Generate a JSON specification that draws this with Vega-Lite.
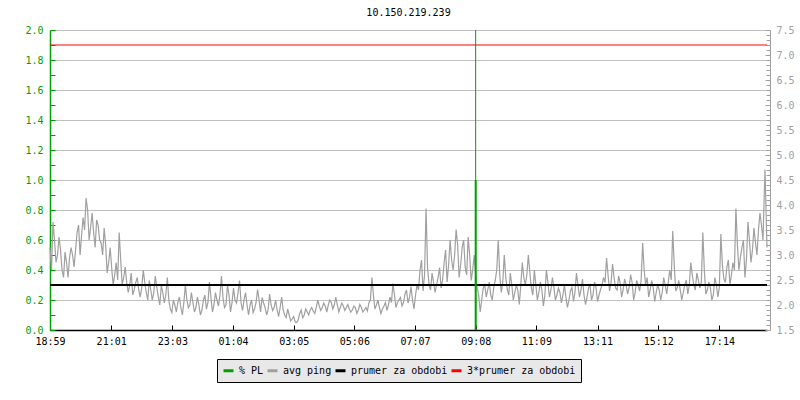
{
  "$schema": "https://vega.github.io/schema/vega-lite/v6.json",
  "width": 717,
  "height": 300,
  "autosize": "none",
  "padding": {"left": 50, "top": 30, "right": 33, "bottom": 70},
  "background": "white",
  "title": {"text": "10.150.219.239", "font": "DejaVu Sans Mono", "fontSize": 10, "fontWeight": "normal", "color": "black", "anchor": "middle", "offset": 7},
  "config": {
    "view": {"stroke": null},
    "font": "DejaVu Sans Mono",
    "axis": {"labelFont": "DejaVu Sans Mono", "labelFontSize": 10, "labelOverlap": false, "title": null, "labelBound": false, "labelFlush": false},
    "legend": {
      "orient": "none",
      "legendX": 167,
      "legendY": 329,
      "direction": "horizontal",
      "symbolType": "stroke",
      "symbolStrokeWidth": 3,
      "symbolSize": 100,
      "labelFont": "DejaVu Sans Mono",
      "labelFontSize": 10,
      "labelColor": "black",
      "labelOffset": 4,
      "columnPadding": -3,
      "padding": 5,
      "fillColor": "#e8e8e8",
      "strokeColor": "black"
    }
  },
  "datasets": {
    "ping": [
      {"m":0,"ping":3.15},{"m":6,"ping":3.66},{"m":12,"ping":2.85},{"m":18,"ping":3.36},{"m":24,"ping":2.7},{"m":30,"ping":3.06},{"m":36,"ping":2.55},{"m":42,"ping":3.15},{"m":48,"ping":2.76},{"m":54,"ping":3.45},
      {"m":60,"ping":3.0},{"m":66,"ping":3.75},{"m":72,"ping":4.14},{"m":78,"ping":3.3},{"m":84,"ping":3.84},{"m":90,"ping":3.15},{"m":96,"ping":3.6},{"m":102,"ping":3.24},{"m":108,"ping":3.54},{"m":114,"ping":2.64},
      {"m":120,"ping":3.15},{"m":126,"ping":2.4},{"m":132,"ping":2.85},{"m":138,"ping":3.45},{"m":144,"ping":2.4},{"m":150,"ping":2.76},{"m":156,"ping":2.25},{"m":162,"ping":2.64},{"m":168,"ping":2.31},{"m":174,"ping":2.55},
      {"m":180,"ping":2.16},{"m":186,"ping":2.7},{"m":192,"ping":2.25},{"m":198,"ping":2.49},{"m":204,"ping":2.1},{"m":210,"ping":2.58},{"m":216,"ping":2.16},{"m":222,"ping":2.4},{"m":228,"ping":2.04},{"m":234,"ping":2.55},
      {"m":240,"ping":1.92},{"m":246,"ping":2.1},{"m":252,"ping":1.86},{"m":258,"ping":2.16},{"m":264,"ping":1.8},{"m":270,"ping":2.4},{"m":276,"ping":1.95},{"m":282,"ping":2.25},{"m":288,"ping":1.86},{"m":294,"ping":2.16},
      {"m":300,"ping":1.8},{"m":306,"ping":2.1},{"m":312,"ping":1.92},{"m":318,"ping":2.46},{"m":324,"ping":1.86},{"m":330,"ping":2.25},{"m":336,"ping":1.98},{"m":342,"ping":2.58},{"m":348,"ping":1.95},{"m":354,"ping":2.4},
      {"m":360,"ping":1.86},{"m":366,"ping":2.34},{"m":372,"ping":2.04},{"m":378,"ping":2.49},{"m":384,"ping":1.89},{"m":390,"ping":2.25},{"m":396,"ping":1.8},{"m":402,"ping":2.1},{"m":408,"ping":1.92},{"m":414,"ping":2.31},
      {"m":420,"ping":1.86},{"m":426,"ping":2.04},{"m":432,"ping":1.8},{"m":438,"ping":2.22},{"m":444,"ping":1.89},{"m":450,"ping":2.1},{"m":456,"ping":1.77},{"m":462,"ping":2.16},{"m":468,"ping":1.8},{"m":474,"ping":1.92},
      {"m":480,"ping":1.68},{"m":486,"ping":1.77},{"m":492,"ping":1.65},{"m":498,"ping":1.83},{"m":504,"ping":1.74},{"m":510,"ping":1.92},{"m":516,"ping":1.8},{"m":522,"ping":1.95},{"m":528,"ping":1.83},{"m":534,"ping":2.1},
      {"m":540,"ping":1.89},{"m":546,"ping":2.04},{"m":552,"ping":1.86},{"m":558,"ping":2.1},{"m":564,"ping":1.92},{"m":570,"ping":2.16},{"m":576,"ping":1.86},{"m":582,"ping":2.04},{"m":588,"ping":1.89},{"m":594,"ping":2.01},
      {"m":600,"ping":1.86},{"m":606,"ping":1.98},{"m":612,"ping":1.83},{"m":618,"ping":2.01},{"m":624,"ping":1.86},{"m":630,"ping":1.95},{"m":636,"ping":2.04},{"m":642,"ping":2.55},{"m":648,"ping":1.92},{"m":654,"ping":2.1},
      {"m":660,"ping":1.83},{"m":666,"ping":1.98},{"m":672,"ping":1.89},{"m":678,"ping":2.16},{"m":684,"ping":2.43},{"m":690,"ping":1.95},{"m":696,"ping":2.1},{"m":702,"ping":1.98},{"m":708,"ping":2.22},{"m":714,"ping":2.04},
      {"m":720,"ping":2.37},{"m":726,"ping":1.92},{"m":732,"ping":2.4},{"m":738,"ping":2.7},{"m":744,"ping":2.28},{"m":750,"ping":3.93},{"m":756,"ping":2.4},{"m":762,"ping":2.64},{"m":768,"ping":2.25},{"m":774,"ping":2.55},
      {"m":780,"ping":2.34},{"m":786,"ping":2.85},{"m":792,"ping":2.46},{"m":798,"ping":3.3},{"m":804,"ping":2.7},{"m":810,"ping":3.51},{"m":816,"ping":2.55},{"m":822,"ping":3.15},{"m":828,"ping":2.76},{"m":834,"ping":3.36},
      {"m":840,"ping":2.49},{"m":846,"ping":3.0},{"m":852,"ping":2.34},{"m":858,"ping":1.86},{"m":864,"ping":2.34},{"m":870,"ping":2.16},{"m":876,"ping":2.46},{"m":882,"ping":2.1},{"m":888,"ping":2.49},{"m":894,"ping":3.3},
      {"m":900,"ping":2.25},{"m":906,"ping":3.0},{"m":912,"ping":2.31},{"m":918,"ping":2.64},{"m":924,"ping":2.1},{"m":930,"ping":2.4},{"m":936,"ping":2.01},{"m":942,"ping":2.85},{"m":948,"ping":2.4},{"m":954,"ping":3.0},
      {"m":960,"ping":2.34},{"m":966,"ping":2.7},{"m":972,"ping":2.1},{"m":978,"ping":2.46},{"m":984,"ping":1.98},{"m":990,"ping":2.7},{"m":996,"ping":2.16},{"m":1002,"ping":2.55},{"m":1008,"ping":2.1},{"m":1014,"ping":2.34},
      {"m":1020,"ping":2.04},{"m":1026,"ping":2.4},{"m":1032,"ping":1.95},{"m":1038,"ping":2.28},{"m":1044,"ping":2.07},{"m":1050,"ping":2.64},{"m":1056,"ping":2.16},{"m":1062,"ping":2.52},{"m":1068,"ping":2.01},{"m":1074,"ping":2.34},
      {"m":1080,"ping":2.1},{"m":1086,"ping":2.46},{"m":1092,"ping":2.07},{"m":1098,"ping":2.31},{"m":1104,"ping":2.55},{"m":1110,"ping":2.94},{"m":1116,"ping":2.28},{"m":1122,"ping":2.82},{"m":1128,"ping":2.34},{"m":1134,"ping":2.58},
      {"m":1140,"ping":2.16},{"m":1146,"ping":2.52},{"m":1152,"ping":2.22},{"m":1158,"ping":2.61},{"m":1164,"ping":2.1},{"m":1170,"ping":2.49},{"m":1176,"ping":2.28},{"m":1182,"ping":3.24},{"m":1188,"ping":2.4},{"m":1194,"ping":2.16},
      {"m":1200,"ping":2.49},{"m":1206,"ping":2.07},{"m":1212,"ping":2.4},{"m":1218,"ping":2.1},{"m":1224,"ping":2.55},{"m":1230,"ping":2.22},{"m":1236,"ping":2.7},{"m":1242,"ping":3.48},{"m":1248,"ping":2.28},{"m":1254,"ping":2.49},
      {"m":1260,"ping":2.1},{"m":1266,"ping":2.4},{"m":1272,"ping":2.22},{"m":1278,"ping":2.85},{"m":1284,"ping":2.4},{"m":1290,"ping":2.64},{"m":1296,"ping":2.34},{"m":1302,"ping":3.45},{"m":1308,"ping":2.22},{"m":1314,"ping":2.46},
      {"m":1320,"ping":2.1},{"m":1326,"ping":2.55},{"m":1332,"ping":2.16},{"m":1338,"ping":3.42},{"m":1344,"ping":2.52},{"m":1350,"ping":2.76},{"m":1356,"ping":2.4},{"m":1362,"ping":2.85},{"m":1368,"ping":3.93},{"m":1374,"ping":2.7},
      {"m":1380,"ping":3.15},{"m":1386,"ping":2.55},{"m":1392,"ping":3.66},{"m":1398,"ping":2.85},{"m":1404,"ping":3.54},{"m":1410,"ping":3.0},{"m":1416,"ping":3.84},{"m":1422,"ping":3.3},{"m":1426,"ping":4.71},{"m":1430,"ping":3.15},
      {"m":3,"ping":2.7},{"m":9,"ping":3.3},{"m":15,"ping":3.0},{"m":21,"ping":3.1},{"m":27,"ping":2.55},{"m":33,"ping":2.85},{"m":39,"ping":2.95},{"m":45,"ping":3.0},{"m":51,"ping":3.1},{"m":57,"ping":3.6},
      {"m":63,"ping":3.4},{"m":69,"ping":3.5},{"m":75,"ping":3.9},{"m":81,"ping":3.55},{"m":87,"ping":3.45},{"m":93,"ping":3.7},{"m":99,"ping":3.3},{"m":105,"ping":3.0},{"m":111,"ping":3.2},{"m":117,"ping":2.85},
      {"m":123,"ping":2.75},{"m":129,"ping":2.6},{"m":135,"ping":2.5},{"m":141,"ping":2.9},{"m":147,"ping":2.55},{"m":153,"ping":2.45},{"m":159,"ping":2.4},{"m":165,"ping":2.2},{"m":171,"ping":2.45},{"m":177,"ping":2.3},
      {"m":183,"ping":2.35},{"m":189,"ping":2.45},{"m":195,"ping":2.1},{"m":201,"ping":2.3},{"m":207,"ping":2.25},{"m":213,"ping":2.35},{"m":219,"ping":2.0},{"m":225,"ping":2.25},{"m":231,"ping":2.2},{"m":237,"ping":2.1},
      {"m":243,"ping":1.85},{"m":249,"ping":2.0},{"m":255,"ping":2.05},{"m":261,"ping":1.95},{"m":267,"ping":2.05},{"m":273,"ping":2.1},{"m":279,"ping":2.0},{"m":285,"ping":2.05},{"m":291,"ping":1.95},{"m":297,"ping":2.0},
      {"m":303,"ping":1.9},{"m":309,"ping":2.2},{"m":315,"ping":2.05},{"m":321,"ping":2.15},{"m":327,"ping":2.0},{"m":333,"ping":2.1},{"m":339,"ping":2.2},{"m":345,"ping":2.15},{"m":351,"ping":2.0},{"m":357,"ping":2.2},
      {"m":363,"ping":2.05},{"m":369,"ping":2.1},{"m":375,"ping":2.25},{"m":381,"ping":2.05},{"m":387,"ping":2.1},{"m":393,"ping":2.0},{"m":399,"ping":2.0},{"m":405,"ping":1.85},{"m":411,"ping":2.05},{"m":417,"ping":2.1},
      {"m":423,"ping":2.15},{"m":429,"ping":1.95},{"m":435,"ping":1.9},{"m":441,"ping":2.0},{"m":447,"ping":1.95},{"m":453,"ping":1.9},{"m":459,"ping":1.95},{"m":465,"ping":1.9},{"m":471,"ping":1.75},{"m":477,"ping":1.8},
      {"m":483,"ping":1.72},{"m":489,"ping":1.66},{"m":495,"ping":1.7},{"m":501,"ping":1.9},{"m":507,"ping":1.8},{"m":513,"ping":1.86},{"m":519,"ping":1.9},{"m":525,"ping":1.88},{"m":531,"ping":1.95},{"m":537,"ping":1.98},
      {"m":543,"ping":1.95},{"m":549,"ping":1.98},{"m":555,"ping":2.0},{"m":561,"ping":2.05},{"m":567,"ping":2.0},{"m":573,"ping":2.0},{"m":579,"ping":1.95},{"m":585,"ping":1.98},{"m":591,"ping":1.95},{"m":597,"ping":1.92},
      {"m":603,"ping":1.9},{"m":609,"ping":1.95},{"m":615,"ping":1.9},{"m":621,"ping":1.95},{"m":627,"ping":1.9},{"m":633,"ping":1.88},{"m":639,"ping":2.1},{"m":645,"ping":2.2},{"m":651,"ping":2.0},{"m":657,"ping":1.95},
      {"m":663,"ping":1.92},{"m":669,"ping":2.05},{"m":675,"ping":2.0},{"m":681,"ping":2.05},{"m":687,"ping":2.2},{"m":693,"ping":2.05},{"m":699,"ping":2.15},{"m":705,"ping":2.05},{"m":711,"ping":2.3},{"m":717,"ping":2.15},
      {"m":723,"ping":2.1},{"m":729,"ping":2.2},{"m":735,"ping":2.3},{"m":741,"ping":2.9},{"m":747,"ping":2.6},{"m":753,"ping":2.75},{"m":759,"ping":2.3},{"m":765,"ping":2.45},{"m":771,"ping":2.4},{"m":777,"ping":2.75},
      {"m":783,"ping":2.5},{"m":789,"ping":3.1},{"m":795,"ping":2.8},{"m":801,"ping":2.9},{"m":807,"ping":3.0},{"m":813,"ping":3.2},{"m":819,"ping":2.8},{"m":825,"ping":3.3},{"m":831,"ping":2.6},{"m":837,"ping":3.0},
      {"m":843,"ping":2.7},{"m":849,"ping":2.6},{"m":855,"ping":2.2},{"m":861,"ping":2.1},{"m":867,"ping":2.4},{"m":873,"ping":2.3},{"m":879,"ping":2.2},{"m":885,"ping":2.35},{"m":891,"ping":2.7},{"m":897,"ping":2.6},
      {"m":903,"ping":2.45},{"m":909,"ping":2.55},{"m":915,"ping":2.2},{"m":921,"ping":2.4},{"m":927,"ping":2.25},{"m":933,"ping":2.3},{"m":939,"ping":2.4},{"m":945,"ping":2.55},{"m":951,"ping":2.6},{"m":957,"ping":2.65},
      {"m":963,"ping":2.2},{"m":969,"ping":2.4},{"m":975,"ping":2.25},{"m":981,"ping":2.3},{"m":987,"ping":2.2},{"m":993,"ping":2.45},{"m":999,"ping":2.3},{"m":1005,"ping":2.35},{"m":1011,"ping":2.2},{"m":1017,"ping":2.25},
      {"m":1023,"ping":2.2},{"m":1029,"ping":2.15},{"m":1035,"ping":2.1},{"m":1041,"ping":2.35},{"m":1047,"ping":2.25},{"m":1053,"ping":2.4},{"m":1059,"ping":2.3},{"m":1065,"ping":2.2},{"m":1071,"ping":2.15},{"m":1077,"ping":2.4},
      {"m":1083,"ping":2.2},{"m":1089,"ping":2.35},{"m":1095,"ping":2.2},{"m":1101,"ping":2.4},{"m":1107,"ping":2.45},{"m":1113,"ping":2.6},{"m":1119,"ping":2.45},{"m":1125,"ping":2.55},{"m":1131,"ping":2.3},{"m":1137,"ping":2.45},
      {"m":1143,"ping":2.3},{"m":1149,"ping":2.4},{"m":1155,"ping":2.35},{"m":1161,"ping":2.45},{"m":1167,"ping":2.25},{"m":1173,"ping":2.4},{"m":1179,"ping":2.5},{"m":1185,"ping":2.7},{"m":1191,"ping":2.55},{"m":1197,"ping":2.3},
      {"m":1203,"ping":2.35},{"m":1209,"ping":2.25},{"m":1215,"ping":2.3},{"m":1221,"ping":2.25},{"m":1227,"ping":2.4},{"m":1233,"ping":2.45},{"m":1239,"ping":2.5},{"m":1245,"ping":2.8},{"m":1251,"ping":2.35},{"m":1257,"ping":2.3},
      {"m":1263,"ping":2.25},{"m":1269,"ping":2.5},{"m":1275,"ping":2.4},{"m":1281,"ping":2.6},{"m":1287,"ping":2.3},{"m":1293,"ping":2.5},{"m":1299,"ping":2.45},{"m":1305,"ping":2.7},{"m":1311,"ping":2.3},{"m":1317,"ping":2.35},
      {"m":1323,"ping":2.2},{"m":1329,"ping":2.4},{"m":1335,"ping":2.35},{"m":1341,"ping":2.8},{"m":1347,"ping":2.45},{"m":1353,"ping":2.9},{"m":1359,"ping":2.6},{"m":1365,"ping":2.7},{"m":1371,"ping":3.2},{"m":1377,"ping":2.95},
      {"m":1383,"ping":3.3},{"m":1389,"ping":2.9},{"m":1395,"ping":3.3},{"m":1401,"ping":3.1},{"m":1407,"ping":3.25},{"m":1413,"ping":3.5},{"m":1419,"ping":3.6}
    ],
    "pl": [{"m": 849, "pl": 1.0}],
    "avg": [{"series": "prumer za obdobi", "ping": 2.4}, {"series": "3*prumer za obdobi", "ping": 7.2}]
  },
  "layer": [
    {
      "data": {"name": "ping"},
      "mark": {"type": "line", "strokeWidth": 1.2},
      "encoding": {
        "x": {
          "field": "m", "type": "quantitative",
          "scale": {"domain": [0, 1430], "nice": false, "zero": false},
          "axis": {
            "orient": "bottom",
            "values": [0, 122, 244, 365, 486, 607, 728, 849, 970, 1092, 1213, 1335],
            "labelExpr": "timeFormat(datetime(2024, 0, 1, 18, 59 + datum.value), '%H:%M')",
            "grid": false,
            "labelOverlap": false,
            "tickSize": -5,
            "tickColor": "black",
            "domainColor": "black",
            "domainWidth": 1.5,
            "labelColor": "black",
            "labelPadding": 11
          }
        },
        "y": {
          "field": "ping", "type": "quantitative",
          "scale": {"domain": [1.5, 7.5], "nice": false, "zero": false},
          "axis": {
            "orient": "right",
            "offset": 3,
            "values": [1.5, 2.0, 2.5, 3.0, 3.5, 4.0, 4.5, 5.0, 5.5, 6.0, 6.5, 7.0, 7.5],
            "format": ".1f",
            "labelOverlap": false,
            "grid": false,
            "tickSize": -5,
            "tickColor": "#a0a0a0",
            "domainColor": "#a0a0a0",
            "labelColor": "#a0a0a0",
            "labelPadding": 11
          }
        },
        "color": {
          "datum": "avg ping", "type": "nominal", "title": null,
          "scale": {
            "domain": ["% PL", "avg ping", "prumer za obdobi", "3*prumer za obdobi"],
            "range": ["#00a000", "#a0a0a0", "#000000", "#ff0000"]
          }
        }
      }
    },
    {
      "data": {"name": "avg"},
      "mark": {"type": "rule"},
      "encoding": {
        "y": {
          "field": "ping", "type": "quantitative",
          "scale": {"domain": [1.5, 7.5], "nice": false, "zero": false},
          "axis": {
            "orient": "right",
            "offset": 3,
            "values": [1.6,1.7,1.8,1.9,2.1,2.2,2.3,2.4,2.6,2.7,2.8,2.9,3.1,3.2,3.3,3.4,3.6,3.7,3.8,3.9,4.1,4.2,4.3,4.4,4.6,4.7,4.8,4.9,5.1,5.2,5.3,5.4,5.6,5.7,5.8,5.9,6.1,6.2,6.3,6.4,6.6,6.7,6.8,6.9,7.1,7.2,7.3,7.4],
            "labels": false,
            "domain": false,
            "grid": false,
            "tickSize": -4,
            "tickColor": "#a0a0a0"
          }
        },
        "color": {"field": "series", "type": "nominal", "title": null},
        "strokeWidth": {
          "field": "series", "type": "nominal",
          "scale": {"domain": ["prumer za obdobi", "3*prumer za obdobi"], "range": [2, 1]},
          "legend": null
        }
      }
    },
    {
      "data": {"name": "pl"},
      "layer": [
        {
          "mark": {"type": "rule", "strokeWidth": 1, "color": "#00a000"},
          "encoding": {
            "x": {"field": "m", "type": "quantitative"}
          }
        },
        {
          "mark": {"type": "rule", "strokeWidth": 2},
          "encoding": {
            "x": {"field": "m", "type": "quantitative"},
            "y": {
              "field": "pl", "type": "quantitative",
              "scale": {"domain": [0, 2], "nice": false, "zero": false},
              "axis": {
                "orient": "left",
                "values": [0,0.1,0.2,0.3,0.4,0.5,0.6,0.7,0.8,0.9,1.0,1.1,1.2,1.3,1.4,1.5,1.6,1.7,1.8,1.9,2.0],
                "labelExpr": "round(datum.value * 10) % 2 == 0 ? format(datum.value, '.1f') : ''",
                "labelOverlap": false,
                "grid": true,
                "gridColor": "#c0c0c0",
                "gridOpacity": {"condition": {"test": "round(datum.value * 10) % 2 == 0", "value": 1}, "value": 0},
                "tickSize": -5,
                "tickColor": "#00a000",
                "domainColor": "#00a000",
                "domainWidth": 1.5,
                "labelColor": "#00a000",
                "labelPadding": 12
              }
            },
            "y2": {"datum": 0},
            "color": {"datum": "% PL", "type": "nominal", "title": null}
          }
        }
      ]
    }
  ],
  "resolve": {"scale": {"y": "independent"}}
}
